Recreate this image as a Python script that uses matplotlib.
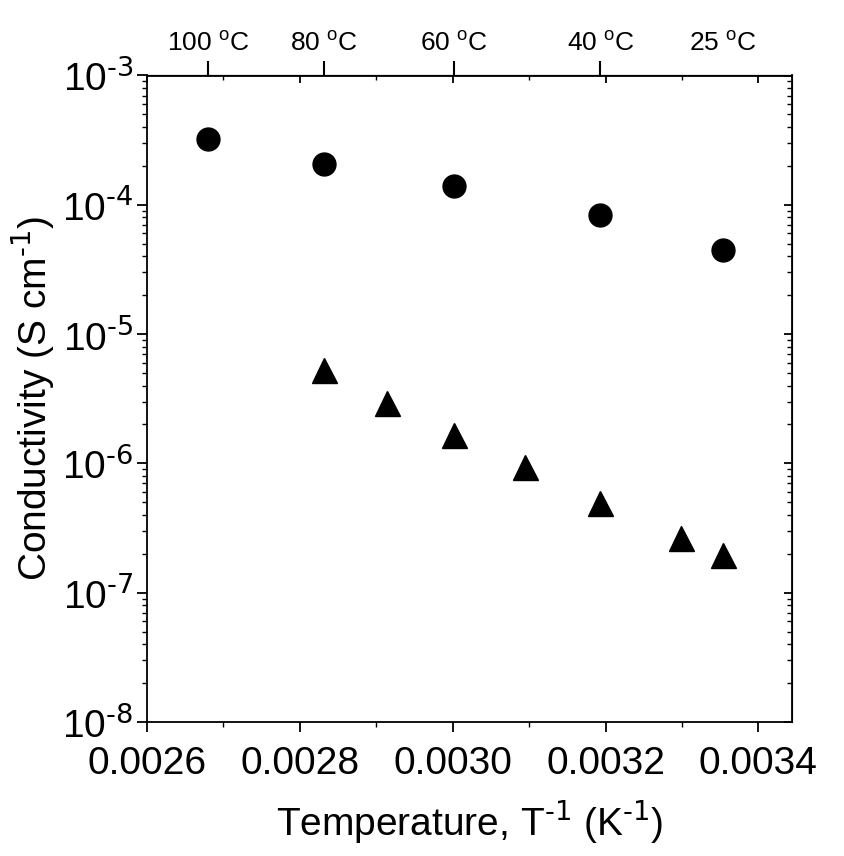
import numpy as np
import matplotlib
matplotlib.use('Agg')
import matplotlib.pyplot as plt
from matplotlib.ticker import NullFormatter, LogLocator, MultipleLocator

plt.rcParams['font.family'] = ['Liberation Sans', 'DejaVu Sans']
plt.rcParams['mathtext.default'] = 'regular'
plt.rcParams['axes.unicode_minus'] = False

# -------------------------------------------------------------------------------
# Data
# -------------------------------------------------------------------------------

# filled circles
temp_circle = [100, 80, 60, 40, 25]                     # deg C
sigma_circle = [3.24e-4, 2.08e-4, 1.39e-4, 8.3e-5, 4.47e-5]   # S/cm

# filled triangles
temp_tri = [80, 70, 60, 50, 40, 30, 25]
sigma_tri = [5.28e-6, 2.92e-6, 1.65e-6, 9.35e-7, 4.97e-7, 2.65e-7, 1.95e-7]

# top axis labels
top_temps = [100, 80, 60, 40]
top_temp_notick = [25]

x_ticks = [0.0026, 0.0028, 0.0030, 0.0032, 0.0034]
x_tick_labels = ['0.0026', '0.0028', '0.0030', '0.0032', '0.0034']

y_exponents = [-8, -7, -6, -5, -4, -3]


def inv_t(t):
    return 1.0 / (np.asarray(t, dtype=float) + 273.15)


# -------------------------------------------------------------------------------
# Plot
# -------------------------------------------------------------------------------

fig = plt.figure(figsize=(8.44, 8.56), dpi=100)
ax = fig.add_axes([147 / 844, 1 - 722 / 856, (792 - 147) / 844, (722 - 75.5) / 856])

ax.plot(inv_t(temp_circle), sigma_circle, 'o', color='black', markersize=16.5, linestyle='none')
ax.plot(inv_t(temp_tri), sigma_tri, '^', color='black', markersize=18, linestyle='none')

ax.set_yscale('log')
ax.set_ylim(1e-8, 1e-3)
ax.set_xlim(0.0026, 0.003444)

ax.set_xticks(x_ticks)
ax.set_xticklabels(x_tick_labels)
ax.xaxis.set_minor_locator(MultipleLocator(0.0001))
ax.set_yticks([10.0 ** e for e in y_exponents])
ax.set_yticklabels([r'10$^{\text{%d}}$' % e for e in y_exponents])
ax.yaxis.set_minor_locator(LogLocator(base=10, subs=np.arange(2, 10), numticks=20))
ax.yaxis.set_minor_formatter(NullFormatter())

for s in ax.spines.values():
    s.set_linewidth(1.3)

ax.tick_params(which='major', direction='out', length=7, width=1.3, labelsize=28,
               top=False, right=False)
ax.tick_params(which='minor', direction='out', length=3.5, width=1.0,
               top=False, right=False)
ax.tick_params(axis='x', which='major', pad=10)
ax.tick_params(axis='y', which='major', pad=3)

ax.set_xlabel(r'Temperature, T$^{\text{-1}}$ (K$^{\text{-1}}$)', fontsize=28, labelpad=12)
ax.set_ylabel(r'Conductivity (S cm$^{\text{-1}}$)', fontsize=28, labelpad=4)

# mirrored inward ticks on top and right
mir_x = ax.secondary_xaxis('top')
mir_x.set_xticks(x_ticks)
mir_x.xaxis.set_minor_locator(MultipleLocator(0.0001))
mir_x.tick_params(which='major', direction='in', length=6, width=1.3, labeltop=False)
mir_x.tick_params(which='minor', direction='in', length=3.5, width=1.0)
mir_x.set_xticklabels([])

mir_y = ax.secondary_yaxis('right')
mir_y.yaxis.set_major_locator(LogLocator(base=10, numticks=10))
mir_y.yaxis.set_minor_locator(LogLocator(base=10, subs=np.arange(2, 10), numticks=20))
mir_y.yaxis.set_major_formatter(NullFormatter())
mir_y.yaxis.set_minor_formatter(NullFormatter())
mir_y.tick_params(which='major', direction='in', length=6, width=1.3)
mir_y.tick_params(which='minor', direction='in', length=3.5, width=1.0)

# temperature axis on top (25 C is labelled without a tick)
top = ax.secondary_xaxis('top')
top.set_xticks(inv_t(top_temps), [f'{t} $^o$C' for t in top_temps])
top.set_xticks(inv_t(top_temp_notick), [f'{t} $^o$C' for t in top_temp_notick], minor=True)
top.tick_params(which='major', direction='out', length=10, width=1.5, labelsize=19, pad=4)
top.tick_params(which='minor', direction='out', length=0, labelsize=19, pad=14)

fig.savefig('out.png', dpi=100)
